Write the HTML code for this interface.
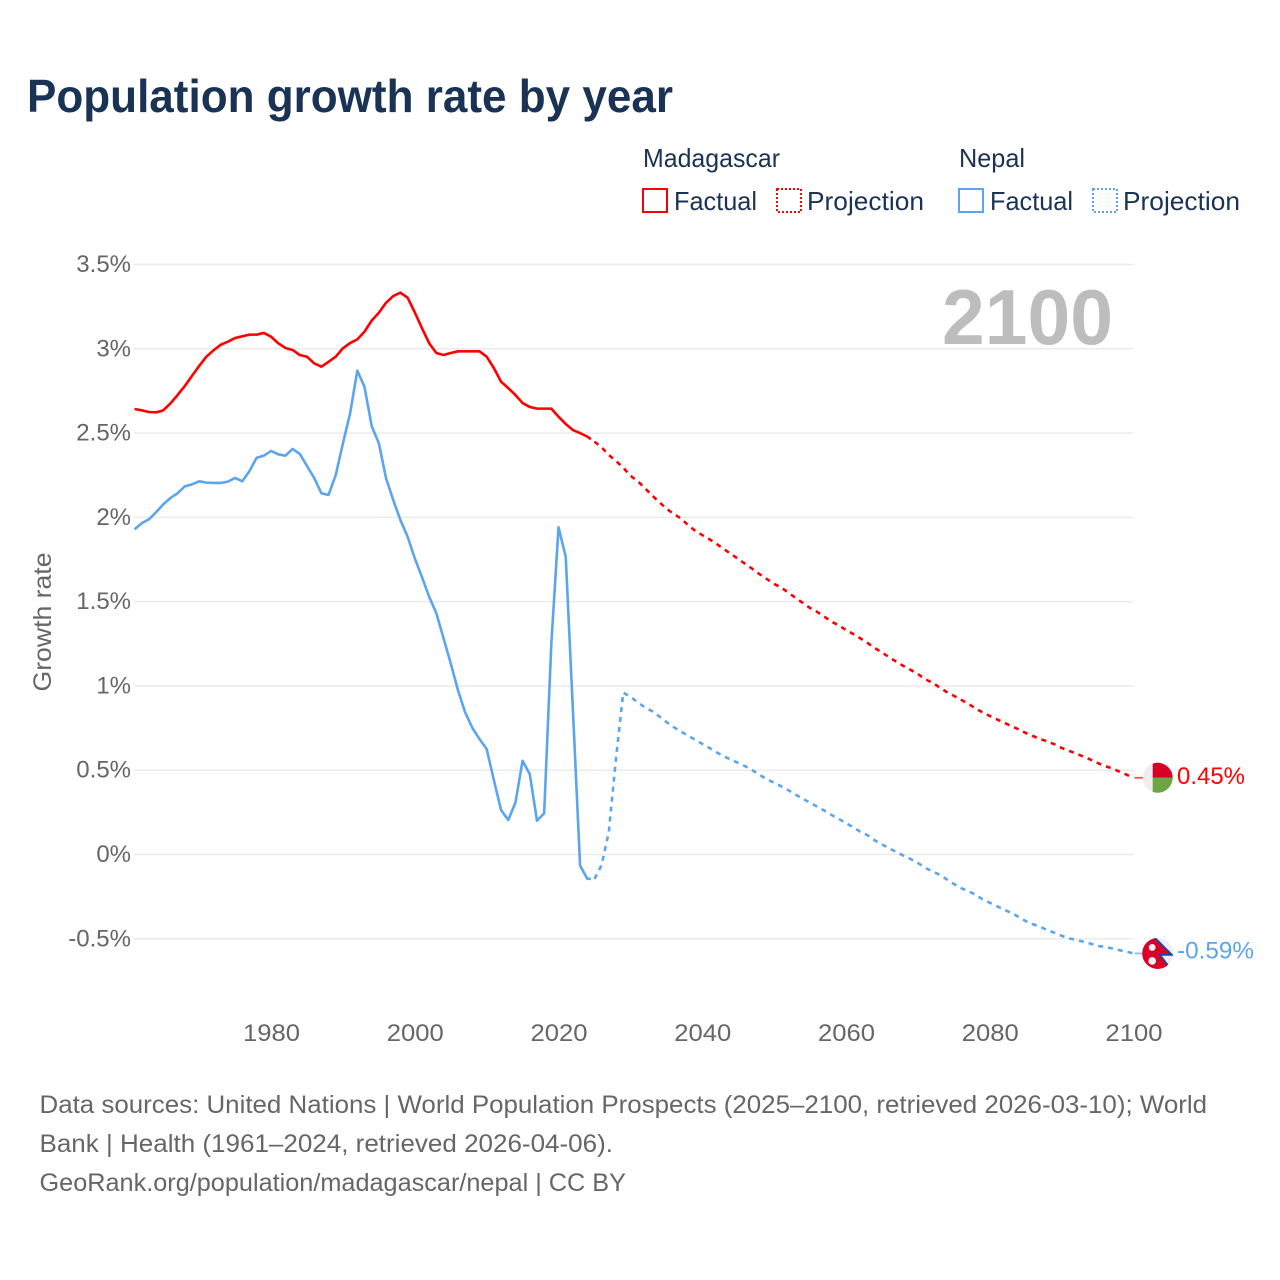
<!DOCTYPE html>
<html lang="en">
<head>
<meta charset="utf-8">
<title>Population growth rate by year</title>
<style>
html,body{margin:0;padding:0;background:#fff;}
svg{display:block;font-family:"Liberation Sans",sans-serif;}
</style>
</head>
<body>
<svg id="chart" xmlns="http://www.w3.org/2000/svg" width="1280" height="1280" viewBox="0 0 1280 1280">
  <rect width="1280" height="1280" fill="#fff"/>
  <text x="27" y="112" font-size="46" font-weight="bold" fill="#1a3355" textLength="646" lengthAdjust="spacingAndGlyphs">Population growth rate by year</text>

  <g font-size="26" fill="#1a3355">
    <text x="643" y="167" textLength="137" lengthAdjust="spacingAndGlyphs">Madagascar</text>
    <text x="959" y="167" textLength="66" lengthAdjust="spacingAndGlyphs">Nepal</text>
    <g>
      <rect x="643" y="189" width="24" height="23" fill="none" stroke="#ff0000" stroke-width="2"/>
      <text x="674" y="210" textLength="83" lengthAdjust="spacingAndGlyphs">Factual</text>
    </g>
    <g>
      <rect x="777" y="189" width="24" height="23" fill="none" stroke="#ff0000" stroke-width="2" stroke-dasharray="2 2"/>
      <text x="807" y="210" textLength="117" lengthAdjust="spacingAndGlyphs">Projection</text>
    </g>
    <g>
      <rect x="959" y="189" width="24" height="23" fill="none" stroke="#5aa5ee" stroke-width="2"/>
      <text x="990" y="210" textLength="83" lengthAdjust="spacingAndGlyphs">Factual</text>
    </g>
    <g>
      <rect x="1093" y="189" width="24" height="23" fill="none" stroke="#5aa5ee" stroke-width="2" stroke-dasharray="2 2"/>
      <text x="1123" y="210" textLength="117" lengthAdjust="spacingAndGlyphs">Projection</text>
    </g>
  </g>

  <g id="grid"></g>
  <g id="yticks" font-size="24" fill="#666" text-anchor="end"></g>
  <g id="xticks" font-size="24" fill="#666" text-anchor="middle"></g>
  <text transform="translate(51,622) rotate(-90)" font-size="25" fill="#666" text-anchor="middle" textLength="139" lengthAdjust="spacingAndGlyphs">Growth rate</text>
  <text x="1113" y="344" font-size="78" font-weight="bold" fill="#bdbdbd" text-anchor="end" textLength="171" lengthAdjust="spacingAndGlyphs">2100</text>

  <g id="series"></g>

  <defs>
    <clipPath id="flagClipM"><circle cx="0" cy="0" r="15"/></clipPath>
    <clipPath id="flagClipN"><circle cx="0" cy="0" r="15.5"/></clipPath>
  </defs>
  <g id="flagM">
    <g clip-path="url(#flagClipM)">
      <rect x="-16" y="-16" width="32" height="32" fill="#eeeeee"/>
      <rect x="-5" y="-16" width="21" height="16" fill="#d80027"/>
      <rect x="-5" y="0" width="21" height="16" fill="#6da544"/>
    </g>
  </g>
  <g id="flagN">
    <g clip-path="url(#flagClipN)">
      <rect x="-17" y="-17" width="34" height="34" fill="#eeeeee"/>
      <polygon points="-4,-17 14.5,1.5 2.5,1.5 11,13.5 -4,20 -20,20 -20,-20" fill="#d80027"/>
      <polyline points="-4,-17 14.5,1.5 2.5,1.5 12,14" fill="none" stroke="#0052b4" stroke-width="1.6"/>
      <circle cx="-5.5" cy="-6" r="3.4" fill="#f2f2f2"/>
      <circle cx="-5.5" cy="7.5" r="3.8" fill="#f2f2f2"/>
    </g>
  </g>
  <text id="labelM" x="1177" font-size="24" fill="#ff0000" textLength="68" lengthAdjust="spacingAndGlyphs"></text>
  <text id="labelN" x="1177" font-size="24" fill="#5aa5ee" textLength="77" lengthAdjust="spacingAndGlyphs"></text>

  <g font-size="25" fill="#666">
    <text x="39.5" y="1113" textLength="1167.5" lengthAdjust="spacingAndGlyphs">Data sources: United Nations | World Population Prospects (2025–2100, retrieved 2026-03-10); World</text>
    <text x="39.5" y="1152" textLength="573.5" lengthAdjust="spacingAndGlyphs">Bank | Health (1961–2024, retrieved 2026-04-06).</text>
    <text x="39.5" y="1191" textLength="586.5" lengthAdjust="spacingAndGlyphs">GeoRank.org/population/madagascar/nepal | CC BY</text>
  </g>
</svg>

<script>
const factualStartYear = 1961;
const projectionStartYear = 2025;
const yTickValues = [3.5, 3, 2.5, 2, 1.5, 1, 0.5, 0, -0.5];
const yTickLabels = ["3.5%", "3%", "2.5%", "2%", "1.5%", "1%", "0.5%", "0%", "-0.5%"];
const xTickValues = [1980, 2000, 2020, 2040, 2060, 2080, 2100];
const endLabelMadagascar = "0.45%";
const endLabelNepal = "-0.59%";

const madagascarFactual = [
2.643,2.635,2.625,2.623,2.635,2.676,2.726,2.779,2.839,2.898,
2.953,2.991,3.024,3.042,3.064,3.074,3.084,3.084,3.094,3.072,
3.033,3.005,2.993,2.963,2.953,2.914,2.894,2.923,2.953,3.003,
3.034,3.056,3.101,3.167,3.214,3.273,3.313,3.333,3.303,3.216,
3.122,3.033,2.975,2.963,2.975,2.985,2.985,2.985,2.985,2.953,
2.886,2.805,2.767,2.726,2.678,2.655,2.645,2.645,2.645,2.597,
2.554,2.518,2.500,2.479];

const madagascarProjection = [
2.449,2.415,2.370,2.334,2.295,2.247,2.216,2.174,2.131,2.091,
2.052,2.022,1.994,1.955,1.921,1.895,1.870,1.842,1.812,1.783,
1.753,1.723,1.694,1.662,1.634,1.605,1.583,1.553,1.522,1.492,
1.462,1.439,1.411,1.381,1.359,1.332,1.308,1.282,1.255,1.225,
1.199,1.170,1.144,1.118,1.095,1.071,1.041,1.019,0.992,0.964,
0.942,0.918,0.895,0.867,0.843,0.822,0.802,0.782,0.762,0.743,
0.721,0.703,0.685,0.671,0.654,0.632,0.616,0.598,0.582,0.563,
0.543,0.525,0.511,0.493,0.474,0.455];

const nepalFactual = [
1.929,1.965,1.988,2.030,2.077,2.115,2.143,2.184,2.196,2.214,
2.206,2.204,2.204,2.212,2.234,2.214,2.275,2.354,2.366,2.394,
2.374,2.366,2.406,2.376,2.305,2.234,2.143,2.133,2.251,2.439,
2.617,2.870,2.775,2.542,2.439,2.232,2.103,1.984,1.885,1.757,
1.646,1.529,1.431,1.283,1.134,0.976,0.844,0.752,0.685,0.626,
0.442,0.264,0.205,0.307,0.556,0.476,0.201,0.244,1.253,1.941,
1.767,0.857,-0.066,-0.144];

const nepalProjection = [
-0.145,-0.062,0.135,0.571,0.960,0.936,0.903,0.873,0.851,0.820,
0.786,0.756,0.731,0.705,0.681,0.656,0.632,0.606,0.582,0.563,
0.543,0.523,0.499,0.472,0.446,0.426,0.404,0.381,0.355,0.331,
0.306,0.284,0.260,0.234,0.211,0.187,0.161,0.135,0.114,0.084,
0.060,0.037,0.015,-0.007,-0.027,-0.050,-0.078,-0.100,-0.120,-0.147,
-0.175,-0.199,-0.218,-0.238,-0.266,-0.286,-0.307,-0.327,-0.347,-0.369,
-0.395,-0.414,-0.428,-0.448,-0.464,-0.482,-0.497,-0.507,-0.517,-0.529,
-0.543,-0.547,-0.557,-0.567,-0.576,-0.587];

const NS = "http://www.w3.org/2000/svg";
const xScale = function (year) { return 134.5 + (year - 1961) * 7.187; };
const yScale = function (v) { return 854.5 - v * 168.57; };

const gridGroup = document.getElementById("grid");
const yTickGroup = document.getElementById("yticks");
const xTickGroup = document.getElementById("xticks");
const seriesGroup = document.getElementById("series");

yTickValues.forEach(function (v, i) {
  const line = document.createElementNS(NS, "line");
  
  
  line.setAttribute("x1", 134);
  line.setAttribute("x2", xScale(2100));
  line.setAttribute("y1", yScale(v));
  line.setAttribute("y2", yScale(v));
  line.setAttribute("stroke", "#ebebeb");
  line.setAttribute("stroke-width", "1.5");
  gridGroup.appendChild(line);

  const t = document.createElementNS(NS, "text");
  
  
  t.setAttribute("x", 131);
  t.setAttribute("y", yScale(v) + 7.5);
  t.textContent = yTickLabels[i];
  yTickGroup.appendChild(t);
});

xTickValues.forEach(function (year) {
  const t = document.createElementNS(NS, "text");
  
  
  t.setAttribute("x", xScale(year) + 0.5);
  t.setAttribute("y", 1041);
  t.setAttribute("textLength", "57");
  t.setAttribute("lengthAdjust", "spacingAndGlyphs");
  t.textContent = String(year);
  xTickGroup.appendChild(t);
});

function toPoints(values, startYear) {
  return values.map(function (v, i) {
    return xScale(startYear + i).toFixed(2) + "," + yScale(v).toFixed(2);
  });
}

function drawSeries(name, color, factual, projection) {
  const factualPts = toPoints(factual, factualStartYear);
  const lastFactualYear = factualStartYear + factual.length - 1;
  const midX = (xScale(lastFactualYear) + xScale(projectionStartYear)) / 2;
  const midY = (yScale(factual[factual.length - 1]) + yScale(projection[0])) / 2;
  factualPts.push(midX.toFixed(2) + "," + midY.toFixed(2));

  const solid = document.createElementNS(NS, "polyline");
  
  
  solid.setAttribute("data-series", name);
  solid.setAttribute("points", factualPts.join(" "));
  solid.setAttribute("fill", "none");
  solid.setAttribute("stroke", color);
  solid.setAttribute("stroke-width", "2.6");
  solid.setAttribute("stroke-linejoin", "round");
  seriesGroup.appendChild(solid);

  const dashed = document.createElementNS(NS, "polyline");
  
  
  dashed.setAttribute("data-series", name);
  dashed.setAttribute("points", toPoints(projection, projectionStartYear).join(" "));
  dashed.setAttribute("fill", "none");
  dashed.setAttribute("stroke", color);
  dashed.setAttribute("stroke-width", "2.6");
  dashed.setAttribute("stroke-dasharray", "5 5");
  seriesGroup.appendChild(dashed);

  const lastY = yScale(projection[projection.length - 1]);
  const connector = document.createElementNS(NS, "line");
  
  
  connector.setAttribute("x1", xScale(2100) + 1);
  connector.setAttribute("x2", 1144);
  connector.setAttribute("y1", lastY);
  connector.setAttribute("y2", lastY);
  connector.setAttribute("stroke", color);
  connector.setAttribute("stroke-opacity", "0.7");
  connector.setAttribute("stroke-width", "1.8");
  seriesGroup.appendChild(connector);
}

drawSeries("madagascar", "#ff0000", madagascarFactual, madagascarProjection);
drawSeries("nepal", "#5aa5ee", nepalFactual, nepalProjection);

const mEndY = yScale(madagascarProjection[madagascarProjection.length - 1]);
const nEndY = yScale(nepalProjection[nepalProjection.length - 1]);
document.getElementById("flagM").setAttribute("transform", "translate(1157.7," + mEndY + ")");
document.getElementById("flagN").setAttribute("transform", "translate(1157.7," + nEndY + ")");
const labelM = document.getElementById("labelM");
labelM.setAttribute("y", mEndY + 6);
labelM.textContent = endLabelMadagascar;
const labelN = document.getElementById("labelN");
labelN.setAttribute("y", nEndY + 5);
labelN.textContent = endLabelNepal;
</script>
</body>
</html>
